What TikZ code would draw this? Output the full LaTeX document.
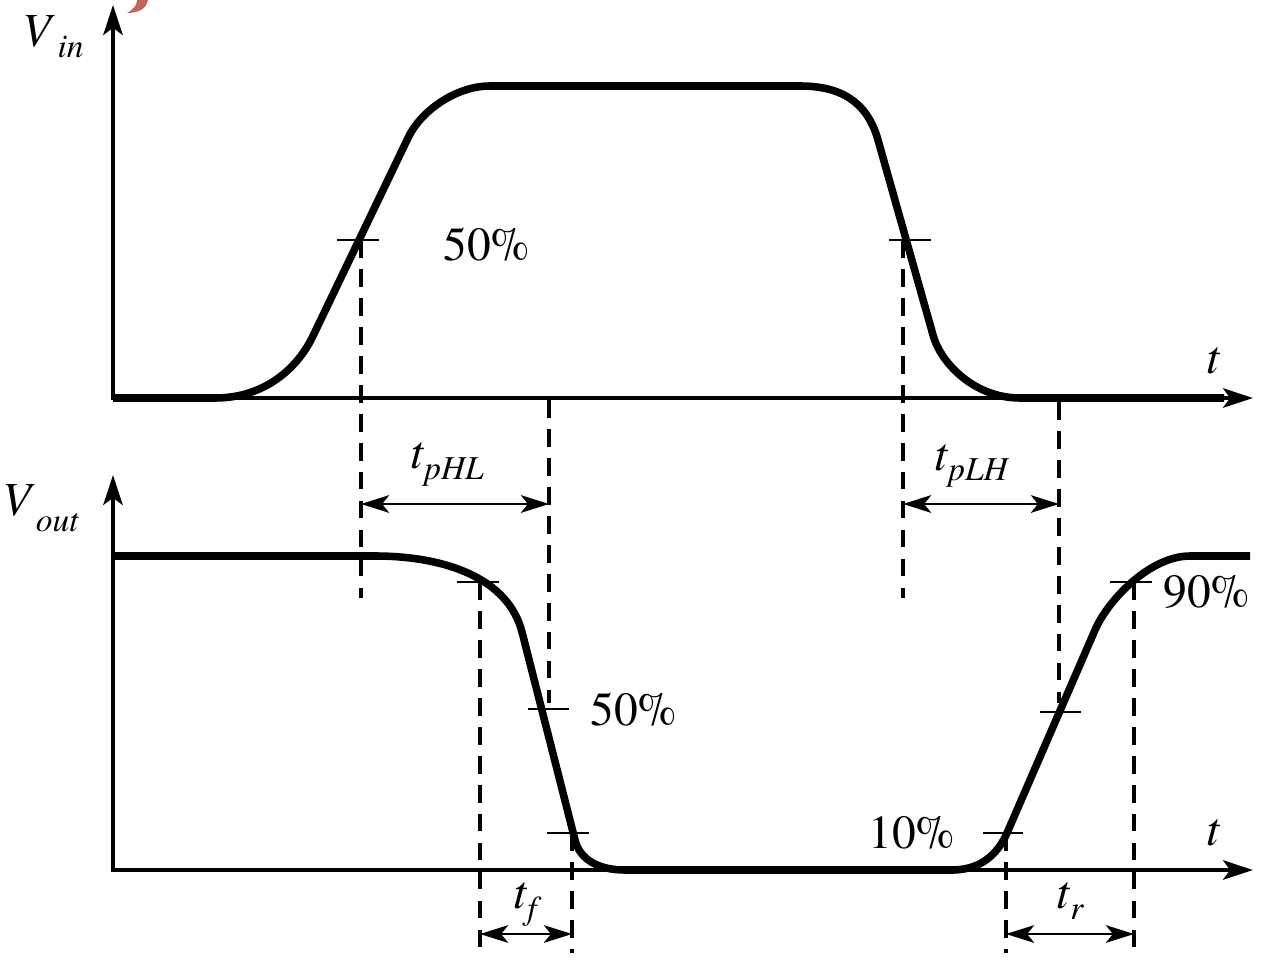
\documentclass[tikz,border=0pt]{standalone}
\usepackage{fontspec}
\setmainfont{texgyretermes}[Extension=.otf,UprightFont=*-regular,ItalicFont=*-italic,BoldFont=*-bold,BoldItalicFont=*-bolditalic]
\usetikzlibrary{arrows.meta}
\definecolor{blob}{RGB}{192,104,88}
\newcommand{\subl}[4]{\textit{#1}\hspace{#3}\raisebox{-#4}{\fontsize{19}{20}\selectfont\textit{#2}}}
\begin{document}
\begin{tikzpicture}[x=0.02cm,y=-0.02cm,
  wave/.style={line width=4.3pt, line join=round},
  axis/.style={line width=2.3pt,-{Stealth[length=17pt,width=11pt,inset=4pt]}},
  tickmark/.style={line width=1.6pt},
  guide/.style={line width=2pt, dash pattern=on 10pt off 6.5pt},
  dim/.style={line width=1.6pt,{Stealth[length=16pt,width=10pt,inset=4pt]}-{Stealth[length=16pt,width=10pt,inset=4pt]}},
  lbl/.style={anchor=base west, inner sep=0pt, font=\fontsize{27}{30}\selectfont},
]
\useasboundingbox (0,0) rectangle (1280,966);

% watermark remnant
\fill[blob] (127,0) -- (148,0) .. controls (147,7) and (141,13) .. (127,13) .. controls (134,9) and (137,5) .. (137,0) -- cycle;

% axes
\coordinate (o1) at (113,400);
\coordinate (y1) at (113,5);
\coordinate (x1) at (1253,398);
\coordinate (o1h) at (111,398);
\coordinate (o2) at (113,872);
\coordinate (y2) at (113,475);
\coordinate (x2) at (1253,870);
\coordinate (o2h) at (111,870);
\draw[axis] (o1) -- (y1);
\draw[axis] (o1h) -- (x1);
\draw[axis] (o2) -- (y2);
\draw[axis] (o2h) -- (x2);

% input waveform
\draw[wave] (113,398) -- (215,398) .. controls (265,398) and (297,368) .. (312,338)
  -- (408,138) .. controls (420,112) and (455,86) .. (490,86) -- (800,86)
  .. controls (840,86) and (867,101) .. (878,140) -- (933,335)
  .. controls (941,364) and (975,398) .. (1020,398) -- (1224,398);

% output waveform
\draw[wave] (113,556) -- (375,556) .. controls (445,556) and (508,578) .. (522,632)
  -- (575,840) .. controls (579,857) and (595,870) .. (625,870) -- (952,870)
  .. controls (985,870) and (1000,849) .. (1007,833) -- (1095,630)
  .. controls (1108,600) and (1150,556) .. (1190,556) -- (1250,556);

% tick marks
\coordinate (ta1) at (337,240); \coordinate (tb1) at (379,240);
\coordinate (ta2) at (889,240); \coordinate (tb2) at (931,240);
\coordinate (ta3) at (457,582); \coordinate (tb3) at (499,582);
\coordinate (ta4) at (528,709); \coordinate (tb4) at (569,709);
\coordinate (ta5) at (547,833); \coordinate (tb5) at (589,833);
\coordinate (ta6) at (983,833); \coordinate (tb6) at (1023,833);
\coordinate (ta7) at (1040,712); \coordinate (tb7) at (1081,712);
\coordinate (ta8) at (1110,582); \coordinate (tb8) at (1152,582);
\foreach \i in {1,...,8} {\draw[tickmark] (ta\i) -- (tb\i);}

% dashed guides
\coordinate (ga1) at (361,240);  \coordinate (gb1) at (361,598);
\coordinate (ga2) at (549,400);  \coordinate (gb2) at (549,703);
\coordinate (ga3) at (903,240);  \coordinate (gb3) at (903,598);
\coordinate (ga4) at (1059,402); \coordinate (gb4) at (1059,703);
\coordinate (ga5) at (480,582);  \coordinate (gb5) at (480,953);
\coordinate (ga6) at (572,833);  \coordinate (gb6) at (572,953);
\coordinate (ga7) at (1006,833); \coordinate (gb7) at (1006,953);
\coordinate (ga8) at (1134,582); \coordinate (gb8) at (1134,953);
\foreach \i in {1,...,8} {\draw[guide] (ga\i) -- (gb\i);}

% dimension arrows
\coordinate (d1a) at (361,504);  \coordinate (d1b) at (549,504);
\coordinate (d2a) at (903,504);  \coordinate (d2b) at (1059,504);
\coordinate (d3a) at (480,934);  \coordinate (d3b) at (572,934);
\coordinate (d4a) at (1006,934); \coordinate (d4b) at (1134,934);
\draw[dim] (d1a) -- (d1b);
\draw[dim] (d2a) -- (d2b);
\draw[dim] (d3a) -- (d3b);
\draw[dim] (d4a) -- (d4b);

% labels
\node[lbl] (vin) at (22,47) {\subl{V}{in}{1.5pt}{6.2pt}};
\node[lbl] (vout) at (2,515) {\subl{V}{out}{0.5pt}{9.5pt}};
\node[lbl] (t1) at (1206,373) {\textit{t}};
\node[lbl] (t2) at (1206,845) {\textit{t}};
\node[lbl] (tphl) at (410,468) {\subl{t}{pHL}{0pt}{6.8pt}};
\node[lbl] (tplh) at (934,470) {\subl{t}{pLH}{0pt}{5.7pt}};
\node[lbl] (tf) at (513,908) {\subl{t}{f}{0pt}{6.8pt}};
\node[lbl] (tr) at (1056,908) {\subl{t}{r}{0pt}{6.8pt}};
\node[lbl] (p50a) at (443,260) {50\%};
\node[lbl] (p50b) at (590,725) {50\%};
\node[lbl] (p10) at (868,848) {10\%};
\node[lbl] (p90) at (1163,607) {90\%};
\end{tikzpicture}
\end{document}
